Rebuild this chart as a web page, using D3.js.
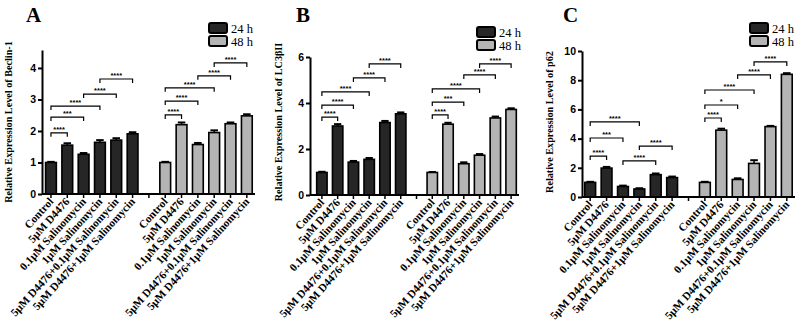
<!DOCTYPE html>
<html lang="en">
<head>
<meta charset="UTF-8">
<title>Beclin-1 / LC3BII / p62</title>
<style>
  body { margin: 0; background: #fff; }
  .tick text { font: bold 10.5px "Liberation Sans", Arial, sans-serif; }
  .xlab { font: bold 11.2px "Liberation Serif", "Times New Roman", serif; }
  .ylab { font: bold 10.2px "Liberation Serif", "Times New Roman", serif; }
  .letter { font: bold 21px "Liberation Serif", "Times New Roman", serif; }
  .leg { font: 12.5px "Liberation Serif", "Times New Roman", serif; }
  .star { font: bold 7.5px "Liberation Sans", Arial, sans-serif; }
</style>
</head>
<body>
<svg width="798" height="322"></svg>
<script src="https://cdn.jsdelivr.net/npm/d3@7"></script>
<script>
// groups on the x axis (same for both time points)
var groups = ["Control", "5μM D4476", "0.1μM Salinomycin", "1μM Salinomycin",
  "5μM D4476+0.1μM Salinomycin", "5μM D4476+1μM Salinomycin"];
var series = ["24 h", "48 h"];

// values
var beclin24 = [1.00, 1.55, 1.26, 1.64, 1.71, 1.91];
var beclin48 = [1.00, 2.20, 1.57, 1.95, 2.23, 2.48];
var beclinErr24 = [0.02, 0.06, 0.04, 0.07, 0.06, 0.05];
var beclinErr48 = [0.02, 0.07, 0.05, 0.07, 0.04, 0.05];

var lc24 = [0.98, 3.00, 1.43, 1.55, 3.15, 3.53];
var lc48 = [0.98, 3.08, 1.36, 1.73, 3.35, 3.72];
var lcErr24 = [0.03, 0.08, 0.05, 0.06, 0.07, 0.06];
var lcErr48 = [0.02, 0.06, 0.06, 0.05, 0.06, 0.05];

var p62_24 = [1.00, 1.98, 0.72, 0.55, 1.53, 1.33];
var p62_48 = [1.00, 4.58, 1.20, 2.30, 4.82, 8.40];
var p62Err24 = [0.04, 0.08, 0.06, 0.05, 0.08, 0.07];
var p62Err48 = [0.04, 0.10, 0.08, 0.22, 0.05, 0.08];

// significance brackets: [series, from, to, height, label]
var beclinSig = [[0, 0, 1, 1.94, "****"], [0, 0, 2, 2.44, "***"], [0, 0, 3, 2.79, "****"],
  [0, 2, 4, 3.17, "****"], [0, 3, 5, 3.65, "****"],
  [1, 0, 1, 2.51, "****"], [1, 0, 2, 2.95, "****"], [1, 0, 3, 3.37, "****"],
  [1, 2, 4, 3.75, "****"], [1, 3, 5, 4.16, "****"]];
var lcSig = [[0, 0, 1, 3.39, "****"], [0, 0, 2, 3.91, "****"], [0, 0, 3, 4.48, "****"],
  [0, 2, 4, 5.09, "****"], [0, 3, 5, 5.70, "****"],
  [1, 0, 1, 3.48, "****"], [1, 0, 2, 4.04, "***"], [1, 0, 3, 4.61, "****"],
  [1, 2, 4, 5.22, "****"], [1, 3, 5, 5.70, "****"]];
var p62Sig = [[0, 0, 1, 2.80, "****"], [0, 0, 2, 4.04, "***"], [0, 0, 3, 5.14, "****"],
  [0, 2, 4, 2.47, "****"], [0, 3, 5, 3.49, "****"],
  [1, 0, 1, 5.41, "****"], [1, 0, 2, 6.30, "*"], [1, 0, 3, 7.33, "****"],
  [1, 2, 4, 8.36, "****"], [1, 3, 5, 9.25, "****"]];

var beclinTicks = [0, 1, 2, 3, 4];
var lcTicks = [0, 2, 4, 6];
var p62Ticks = [0, 2, 4, 6, 8, 10];

var fills = ["#262626", "#b4b4b4"];

var panels = [
  { letter: "A", ylabel: "Relative Expression Level of  Beclin-1", v: [beclin24, beclin48],
    e: [beclinErr24, beclinErr48], sig: beclinSig, ticks: beclinTicks, ymax: 4.57,
    ax: 42, x0: 42.8, x1: 255, y0: 194, y1: 50, letterX: 26, labX: 12, legX: 209, legY: 23 },
  { letter: "B", ylabel: "Relative Expression Level of  LC3βII", v: [lc24, lc48],
    e: [lcErr24, lcErr48], sig: lcSig, ticks: lcTicks, ymax: 6,
    ax: 310, x0: 314, x1: 519, y0: 195, y1: 57, letterX: 296, labX: 282, legX: 477, legY: 27 },
  { letter: "C", ylabel: "Relative Expression Level of  p62", v: [p62_24, p62_48],
    e: [p62Err24, p62Err48], sig: p62Sig, ticks: p62Ticks, ymax: 10,
    ax: 582, x0: 582, x1: 795, y0: 197, y1: 51, letterX: 563, labX: 553, legX: 750, legY: 23 }
];

var svg = d3.select("svg");

panels.forEach(drawPanel);

function drawPanel(p) {
  var g = svg.append("g");

  // 13 slots: 6 bars, an empty gap, 6 bars
  var slots = groups.map(function (d, i) { return "a" + i; })
    .concat(["gap"])
    .concat(groups.map(function (d, i) { return "b" + i; }));
  var x = d3.scaleBand().domain(slots).range([p.x0, p.x1]);
  var y = d3.scaleLinear().domain([0, p.ymax]).range([p.y0, p.y1]);
  var bw = x.bandwidth() * 0.66;
  var key = function (s, i) { return (s === 0 ? "a" : "b") + i; };
  var cx = function (s, i) { return x(key(s, i)) + x.bandwidth() / 2; };

  // bars
  p.v.forEach(function (vals, s) {
    var bars = g.append("g");
    bars.selectAll("rect").data(vals).enter().append("rect")
      .attr("x", function (d, i) { return cx(s, i) - bw / 2; })
      .attr("y", function (d) { return y(d); })
      .attr("width", bw)
      .attr("height", function (d) { return y(0) - y(d); })
      .attr("fill", fills[s])
      .attr("stroke", "#000")
      .attr("stroke-width", 1.6);
    // error bars
    bars.selectAll("line.err").data(vals).enter().append("line")
      .attr("class", "err")
      .attr("x1", function (d, i) { return cx(s, i); })
      .attr("x2", function (d, i) { return cx(s, i); })
      .attr("y1", function (d) { return y(d); })
      .attr("y2", function (d, i) { return y(d + p.e[s][i]); })
      .attr("stroke", "#000").attr("stroke-width", 1.5);
    bars.selectAll("line.cap").data(vals).enter().append("line")
      .attr("class", "cap")
      .attr("x1", function (d, i) { return cx(s, i) - bw * 0.35; })
      .attr("x2", function (d, i) { return cx(s, i) + bw * 0.35; })
      .attr("y1", function (d, i) { return y(d + p.e[s][i]); })
      .attr("y2", function (d, i) { return y(d + p.e[s][i]); })
      .attr("stroke", "#000").attr("stroke-width", 2);
  });

  // y axis
  var yAxis = d3.axisLeft(y).tickValues(p.ticks).tickFormat(d3.format("d"))
    .tickSize(4).tickSizeOuter(0).tickPadding(2);
  var ya = g.append("g").attr("transform", "translate(" + p.ax + ",0)").call(yAxis);
  ya.select(".domain").attr("stroke-width", 2);
  ya.selectAll(".tick line").attr("stroke-width", 2);

  // x axis line and ticks
  g.append("line")
    .attr("x1", p.ax).attr("x2", p.x1)
    .attr("y1", y(0)).attr("y2", y(0))
    .attr("stroke", "#000").attr("stroke-width", 2);
  g.selectAll("line.xt").data(slots).enter().append("line")
    .attr("class", "xt")
    .attr("x1", function (d) { return x(d) + x.bandwidth() / 2; })
    .attr("x2", function (d) { return x(d) + x.bandwidth() / 2; })
    .attr("y1", y(0)).attr("y2", y(0) + 4)
    .attr("stroke", "#000").attr("stroke-width", 1.5);

  // rotated group labels
  [0, 1].forEach(function (s) {
    g.selectAll("text.xl" + s).data(groups).enter().append("text")
      .attr("class", "xlab xl" + s)
      .attr("text-anchor", "end")
      .attr("transform", function (d, i) {
        return "translate(" + (cx(s, i) + 3) + "," + (y(0) + 8) + ") rotate(-48)";
      })
      .text(function (d) { return d; });
  });

  // significance brackets
  var sb = g.selectAll("g.sig").data(p.sig).enter().append("g").attr("class", "sig");
  sb.append("path")
    .attr("d", function (d) {
      var xa = cx(d[0], d[1]), xb = cx(d[0], d[2]), yy = y(d[3]);
      return "M" + xa + "," + (yy + 4) + "V" + yy + "H" + xb + "V" + (yy + 4);
    })
    .attr("fill", "none").attr("stroke", "#000").attr("stroke-width", 1.2);
  sb.append("text")
    .attr("class", "star")
    .attr("text-anchor", "middle")
    .attr("x", function (d) { return (cx(d[0], d[1]) + cx(d[0], d[2])) / 2; })
    .attr("y", function (d) { return y(d[3]) - 1; })
    .text(function (d) { return d[4]; });

  // y label
  g.append("text")
    .attr("class", "ylab")
    .attr("text-anchor", "middle")
    .attr("transform", "translate(" + p.labX + "," + 122 + ") rotate(-90)")
    .text(p.ylabel);

  // panel letter
  g.append("text").attr("class", "letter")
    .attr("x", p.letterX).attr("y", 22).text(p.letter);

  // legend
  var leg = g.selectAll("g.leg").data(series).enter().append("g")
    .attr("class", "leg")
    .attr("transform", function (d, i) { return "translate(" + p.legX + "," + (p.legY + i * 13) + ")"; });
  leg.append("rect")
    .attr("width", 18).attr("height", 10).attr("rx", 2)
    .attr("fill", function (d, i) { return fills[i]; })
    .attr("stroke", "#000").attr("stroke-width", 2);
  leg.append("text")
    .attr("x", 22).attr("y", 10)
    .text(function (d) { return d; });
}
</script>
</body>
</html>
